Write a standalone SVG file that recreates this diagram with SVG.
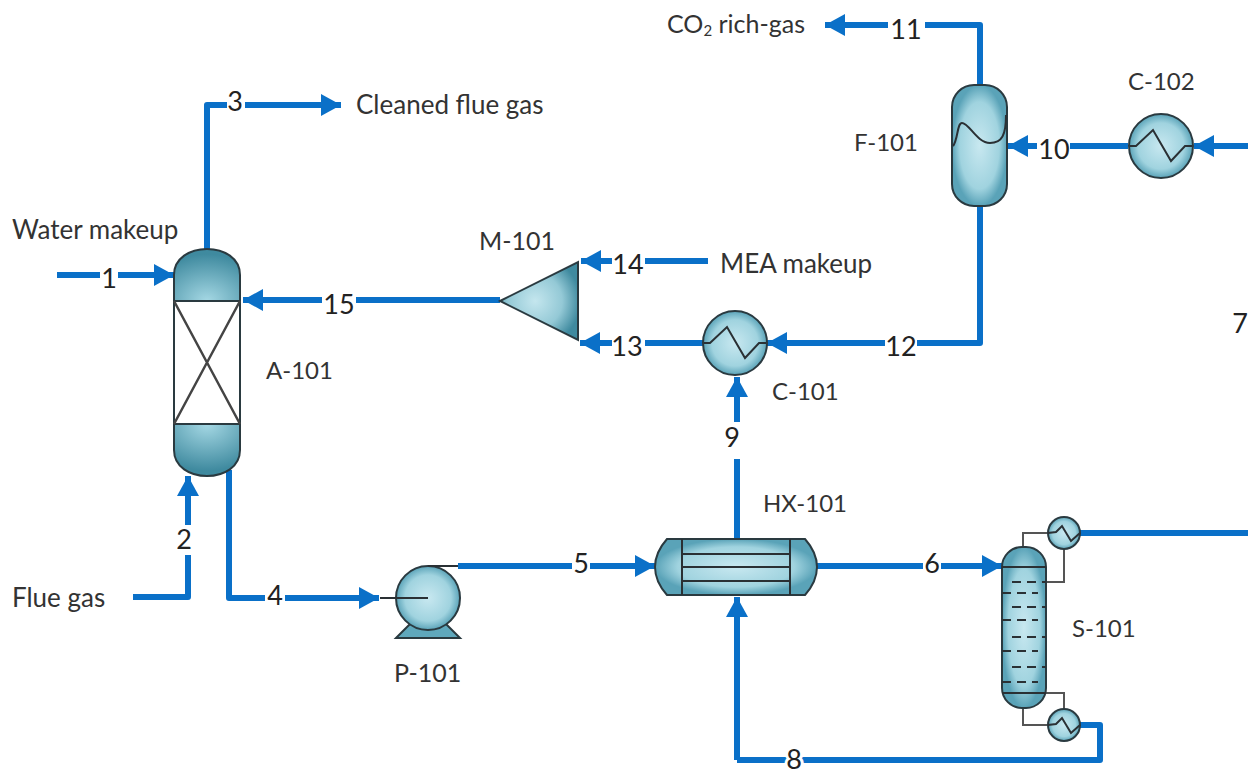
<svg xmlns="http://www.w3.org/2000/svg" width="1248" height="774" viewBox="0 0 1248 774">
<style>
text{font-family:Lato,"Liberation Sans",sans-serif;fill:#333}
.n{font-size:24px}
.m{font-size:25px}
.w{font-size:26px}
.s{font-size:27px;fill:#222;text-anchor:middle}
.c{fill:none;stroke:#0a70c8;stroke-width:6;stroke-linejoin:round}
.a{marker-end:url(#ah)}
.e{stroke:#2a3a40;stroke-width:2}
.l{fill:none;stroke:#2a3034;stroke-width:2}
.t{fill:none;stroke:#444;stroke-width:2.5}
.h{fill:none;stroke:#555;stroke-width:2}
</style>
<defs>
<marker id="ah" markerUnits="userSpaceOnUse" markerWidth="24" markerHeight="24" refX="22" refY="12" orient="auto" viewBox="0 0 24 24"><path d="M22 12L2 1V23Z" fill="#0a70c8"/></marker>
<radialGradient id="g"><stop offset="0" stop-color="#c8e8f0"/><stop offset=".72" stop-color="#a0d3df"/><stop offset="1" stop-color="#5aa3b8"/></radialGradient>
<radialGradient id="gm" cx=".45" cy=".5" r=".58"><stop offset="0" stop-color="#c4e6ee"/><stop offset=".6" stop-color="#94c9d6"/><stop offset="1" stop-color="#3f8a9f"/></radialGradient>
<radialGradient id="gt" cx=".5" cy="1" r=".9"><stop offset="0" stop-color="#a5d8e4"/><stop offset="1" stop-color="#3f8a9f"/></radialGradient>
<radialGradient id="gb" cx=".5" cy="0" r=".9"><stop offset="0" stop-color="#a5d8e4"/><stop offset="1" stop-color="#3f8a9f"/></radialGradient>
</defs>
<rect width="1248" height="774" fill="#fff"/>
<g id="connectors">
<path class="c" d="M57 275H100"/><path class="c a" d="M118 275H174"/>
<path class="c" d="M133 597H188V555"/><path class="c a" d="M188 525V476"/>
<path class="c" d="M207 250V105H227"/><path class="c a" d="M245 105H341"/>
<path class="c" d="M229 470V598H265"/><path class="c a" d="M285 598H379"/>
<path class="c" d="M458 566H572"/><path class="c a" d="M590 566H655"/>
<path class="c" d="M817 566H923"/><path class="c a" d="M941 566H1002"/>
<path class="c" d="M1080 533H1248"/>
<path class="c" d="M1078 725H1100V760H737"/><path class="c a" d="M737 760V597"/>
<path class="c" d="M737 540V459"/><path class="c a" d="M737 422V377"/>
<path class="c" d="M980 206V343H917"/><path class="c a" d="M885 343H767"/>
<path class="c" d="M703 343H645"/><path class="c a" d="M612 343H580"/>
<path class="c" d="M708 261H645"/><path class="c a" d="M612 261H581"/>
<path class="c" d="M500 300H356"/><path class="c a" d="M322 300H243"/>
<path class="c" d="M1128 146H1070"/><path class="c a" d="M1037 146H1008"/>
<path class="c a" d="M1248 146H1194"/>
<path class="c" d="M980 85V25H925"/><path class="c a" d="M888 25H825"/>
</g>
<g id="A-101">
<path d="M174 301V275C174 258 190 249 207 249S240 258 240 275V301Z" fill="url(#gt)" class="e"/>
<path d="M174 301H240V424H174Z" fill="#fff" class="e"/>
<path d="M174 424V450C174 467 190 476 207 476S240 467 240 450V424Z" fill="url(#gb)" class="e"/>
<path class="t" d="M174 301L240 424M240 301L174 424"/>
</g>
<g id="F-101">
<rect x="952" y="85" width="55" height="121" rx="22" fill="url(#g)" class="e"/>
<path class="l" d="M953 146C958 140 957 123 962 123C969 123 977 143 990 143C1002 143 1006 135 1006 115"/>
</g>
<g id="C-102"><circle cx="1161" cy="146" r="32" fill="url(#g)" class="e"/><path class="l" d="M1130 146H1136L1153 130L1171 161L1185 146H1192"/></g>
<g id="M-101"><path d="M500 301L578 262V340Z" fill="url(#gm)" class="e"/></g>
<g id="C-101"><circle cx="735" cy="343" r="32" fill="url(#g)" class="e"/><path class="l" d="M704 343H710L727 327L745 358L759 343H766"/></g>
<g id="HX-101">
<path d="M667 539H805C813 548 817 557 817 567S813 586 805 595H667C659 586 655 577 655 567S659 548 667 539Z" fill="url(#g)" class="e"/>
<path class="l" d="M682 539V595M790 539V595M682 554H790M682 567H790M682 581H790"/>
</g>
<g id="P-101">
<path d="M396 638L412 622H444L460 638Z" fill="#5fa8bc" class="e"/>
<circle cx="428" cy="598" r="32" fill="url(#g)" class="e"/>
<path class="l" d="M380 598H428M428 566H458"/>
</g>
<g id="S-101">
<path class="h" d="M1023 547V533H1048M1064 549V582H1046M1046 693H1064V709M1023 708V725H1048"/>
<rect x="1002" y="547" width="44" height="161" rx="20" fill="url(#g)" class="e"/>
<path class="l" d="M1002 567H1046M1002 693H1046"/>
<path class="l" stroke-dasharray="9 6" d="M1012 582H1046M1002 593H1038M1012 607H1046M1002 620H1038M1012 637H1046M1002 651H1038M1012 667H1046M1002 682H1038"/>
<circle cx="1064" cy="533" r="16" fill="url(#g)" class="e"/><path class="l" d="M1048 533L1056 532L1062 526L1071 541L1080 533"/>
<circle cx="1064" cy="725" r="16" fill="url(#g)" class="e"/><path class="l" d="M1048 725L1056 724L1062 718L1071 733L1080 725"/>
</g>
<g id="labels">
<text class="w" x="356" y="114">Cleaned flue gas</text>
<text class="w" x="12" y="239">Water makeup</text>
<text class="w" x="12" y="607">Flue gas</text>
<text class="w" x="720" y="273">MEA makeup</text>
<text class="m" x="479" y="250">M-101</text>
<text class="n" x="266" y="379">A-101</text>
<text class="n" x="772" y="400">C-101</text>
<text class="n" x="763" y="512">HX-101</text>
<text class="m" x="394" y="682">P-101</text>
<text class="n" x="1072" y="637">S-101</text>
<text class="n" x="854" y="151">F-101</text>
<text class="n" x="1128" y="90">C-102</text>
<text class="m" x="667" y="33">CO<tspan font-size="15" dy="3">2</tspan><tspan dy="-3"> rich-gas</tspan></text>
<text class="s" x="109" y="288">1</text>
<text class="s" x="184" y="549">2</text>
<text class="s" x="235" y="111">3</text>
<text class="s" x="275" y="605">4</text>
<text class="s" x="581" y="573">5</text>
<text class="s" x="932" y="573">6</text>
<text class="s" x="1240" y="333">7</text>
<text class="s" x="794" y="769" style="paint-order:stroke;stroke:#fff;stroke-width:6px">8</text>
<text class="s" x="732" y="447">9</text>
<text class="s" x="1054" y="159">10</text>
<text class="s" x="906" y="39">11</text>
<text class="s" x="901" y="356">12</text>
<text class="s" x="627" y="356">13</text>
<text class="s" x="628" y="274">14</text>
<text class="s" x="339" y="314">15</text>
</g>
</svg>
